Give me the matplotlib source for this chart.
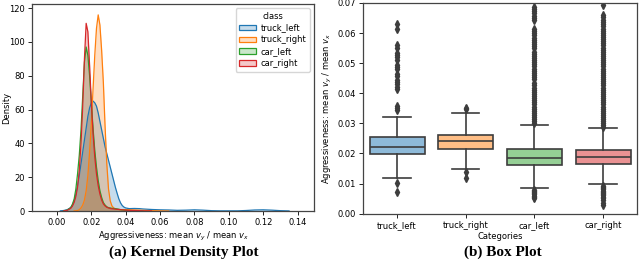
import numpy as np
import matplotlib
matplotlib.use("Agg")
import matplotlib.pyplot as plt
from matplotlib.patches import Patch

# ---- data ----
classes = ["truck_left", "truck_right", "car_left", "car_right"]
colors = ["#1f77b4", "#ff7f0e", "#2ca02c", "#d62728"]

# KDE curves (x grid shared, nan = curve not drawn there)
nan = np.nan
x_grid = [0.002, 0.004, 0.006, 0.008, 0.009, 0.010, 0.011, 0.012, 0.013, 0.014,
          0.015, 0.016, 0.017, 0.018, 0.019, 0.020, 0.021, 0.022, 0.023, 0.024,
          0.025, 0.026, 0.027, 0.028, 0.029, 0.030, 0.031, 0.032, 0.033, 0.034,
          0.035, 0.036, 0.037, 0.038, 0.039, 0.040, 0.042, 0.045, 0.048, 0.050,
          0.055, 0.060, 0.065, 0.070, 0.075, 0.080, 0.085, 0.090, 0.095, 0.100,
          0.105, 0.110, 0.115, 0.120, 0.125, 0.130, 0.135]
dens_truck_left = [0.1, 0.3, 0.8, 2, 3.5, 6, 10, 15, 21, 28,
                   35, 42, 49, 56, 61, 64, 65, 64, 62, 58,
                   53, 48, 43, 38, 34, 30, 26, 22, 18, 14,
                   10.5, 7.2, 4.8, 3.2, 2.3, 1.8, 1.4, 1.5, 1.4, 1.2,
                   0.9, 0.7, 0.6, 0.4, 0.5, 0.7, 0.5, 0.2, 0.1, 0.1,
                   0.1, 0.3, 0.6, 0.7, 0.5, 0.2, 0.05]
dens_truck_right = [nan, nan, nan, nan, nan, 0.05, 0.15, 0.3, 0.8, 1.8,
                    3.5, 6.5, 12, 21, 35, 52, 72, 92, 108, 116,
                    110, 95, 76, 50, 28, 13, 6, 3, 1.8, 1.3,
                    1.0, 0.9, 0.8, 0.8, 0.8, 0.8, 0.7, 0.6, 0.5, 0.4,
                    0.2, 0.1, 0.03, nan, nan, nan, nan, nan, nan, nan,
                    nan, nan, nan, nan, nan, nan, nan]
dens_car_left = [nan, 0.1, 0.5, 2, 4, 7, 13, 22, 33, 48,
                 68, 88, 97, 92, 80, 64, 49, 36, 26, 18,
                 12, 8, 5, 3.5, 2.5, 2, 1.8, 1.6, 1.5, 1.4,
                 1.2, 1.0, 0.8, 0.6, 0.5, 0.4, 0.3, 0.2, 0.1, 0.05,
                 nan, nan, nan, nan, nan, nan, nan, nan, nan, nan,
                 nan, nan, nan, nan, nan, nan, nan]
dens_car_right = [nan, 0.1, 0.4, 1.5, 2.8, 5, 8.5, 14, 24, 40,
                  62, 90, 111, 106, 86, 64, 46, 32, 22, 15,
                  10, 6.5, 4.2, 3, 2.2, 1.8, 1.5, 1.3, 1.2, 1.1,
                  1.0, 0.9, 0.8, 0.7, 0.6, 0.5, 0.4, 0.3, 0.2, 0.1,
                  0.05, nan, nan, nan, nan, nan, nan, nan, nan, nan,
                  nan, nan, nan, nan, nan, nan, nan]
densities = [dens_truck_left, dens_truck_right, dens_car_left, dens_car_right]

# box plot statistics
q1 = [0.0198, 0.0215, 0.0162, 0.0164]
med = [0.0223, 0.0242, 0.0185, 0.0187]
q3 = [0.0256, 0.0262, 0.0215, 0.0212]
whis_lo = [0.0120, 0.0147, 0.0084, 0.0098]
whis_hi = [0.0320, 0.0334, 0.0294, 0.0285]
fliers_truck_left = [0.0073, 0.0102,
                     0.0345, 0.0352, 0.0358, 0.0413, 0.0420, 0.0430, 0.0437, 0.0445,
                     0.0458, 0.0465, 0.0480, 0.0488, 0.0495, 0.0510, 0.0520, 0.0528,
                     0.0535, 0.0552, 0.0560, 0.0615, 0.0630]
fliers_truck_right = [0.0120, 0.0138, 0.0348, 0.0352]
fliers_car_left = [0.0052, 0.0056, 0.0060, 0.0064, 0.0068, 0.0072, 0.0076, 0.0080,
                   0.0300, 0.0307, 0.0314, 0.0321, 0.0328, 0.0335, 0.0342, 0.0349,
                   0.0356, 0.0363, 0.0370, 0.0377, 0.0384, 0.0391, 0.0398, 0.0405,
                   0.0412, 0.0419, 0.0426, 0.0433, 0.0447, 0.0454, 0.0461, 0.0468,
                   0.0475, 0.0482, 0.0489, 0.0496, 0.0503, 0.0510, 0.0517, 0.0524,
                   0.0531, 0.0538, 0.0550, 0.0557, 0.0564, 0.0571, 0.0578, 0.0585,
                   0.0592, 0.0599, 0.0606, 0.0613, 0.0643, 0.0650, 0.0657, 0.0668,
                   0.0674, 0.0680, 0.0686]
fliers_car_right = [0.0030, 0.0036, 0.0045, 0.0053, 0.0057, 0.0061, 0.0065, 0.0069,
                    0.0073, 0.0077, 0.0081, 0.0085, 0.0089, 0.0093,
                    0.0288, 0.0293, 0.0300, 0.0307, 0.0314, 0.0321, 0.0328, 0.0335,
                    0.0342, 0.0349, 0.0356, 0.0363, 0.0370, 0.0377, 0.0384, 0.0391,
                    0.0398, 0.0405, 0.0412, 0.0419, 0.0426, 0.0433, 0.0440, 0.0447,
                    0.0454, 0.0461, 0.0468, 0.0475, 0.0482, 0.0489, 0.0496, 0.0503,
                    0.0510, 0.0517, 0.0524, 0.0531, 0.0538, 0.0545, 0.0552, 0.0559,
                    0.0566, 0.0573, 0.0580, 0.0587, 0.0594, 0.0601, 0.0608, 0.0615,
                    0.0622, 0.0629, 0.0636, 0.0643, 0.0655, 0.0660, 0.0693]
fliers = [fliers_truck_left, fliers_truck_right, fliers_car_left, fliers_car_right]

xlabel_aggr = r"Aggressiveness: mean $v_y$ / mean $v_x$"

plt.rcParams["font.size"] = 6
plt.rcParams["axes.linewidth"] = 0.9
plt.rcParams["axes.edgecolor"] = "#444444"

fig = plt.figure(figsize=(6.4, 2.7), dpi=100)

# ---- (a) kernel density ----
ax1 = fig.add_axes([0.05, 0.2185, 0.4406, 0.7665])
xg = np.array(x_grid)
handles = []
for name, col, d in zip(classes, colors, densities):
    d = np.array(d, dtype=float)
    ax1.fill_between(xg, 0, d, color=col, alpha=0.25, linewidth=0)
    ax1.plot(xg, d, color=col, linewidth=0.9)
    handles.append(Patch(facecolor=matplotlib.colors.to_rgba(col, 0.25),
                         edgecolor=col, linewidth=0.9, label=name))
ax1.set_xlim(-0.0145, 0.1495)
ax1.set_ylim(0, 122.4)
ax1.set_xticks([0.00, 0.02, 0.04, 0.06, 0.08, 0.10, 0.12, 0.14])
ax1.set_xticklabels(["0.00", "0.02", "0.04", "0.06", "0.08", "0.10", "0.12", "0.14"])
ax1.set_yticks([0, 20, 40, 60, 80, 100, 120])
ax1.set_xlabel(xlabel_aggr, labelpad=2)
ax1.set_ylabel("Density")
ax1.yaxis.set_label_coords(-0.075, 0.5)
ax1.tick_params(length=3, width=0.6, pad=2)
ax1.legend(handles=handles, title="class", loc="upper right", fontsize=6,
           title_fontsize=6, handlelength=2.0, borderaxespad=0.5,
           labelspacing=0.35, handletextpad=0.6)

# ---- (b) box plot ----
ax2 = fig.add_axes([0.5667, 0.2085, 0.4293, 0.7805])
stats = []
for i, name in enumerate(classes):
    stats.append(dict(label=name, q1=q1[i], med=med[i], q3=q3[i],
                      whislo=whis_lo[i], whishi=whis_hi[i], fliers=fliers[i]))
line_col = "#3d3d3d"
bp = ax2.bxp(stats, positions=range(4), widths=0.8, patch_artist=True,
             boxprops=dict(edgecolor=line_col, linewidth=1.2),
             medianprops=dict(color=line_col, linewidth=1.2),
             whiskerprops=dict(color=line_col, linewidth=1.2),
             capprops=dict(color=line_col, linewidth=1.2),
             flierprops=dict(marker="d", markerfacecolor=line_col,
                             markeredgecolor=line_col, markersize=4))
for patch, col in zip(bp["boxes"], colors):
    patch.set_facecolor(matplotlib.colors.to_rgba(col, 0.5))
for cap in bp["caps"]:
    xd = cap.get_xdata()
    c = (xd[0] + xd[1]) / 2
    cap.set_xdata([c - 0.2, c + 0.2])
ax2.set_xlim(-0.5, 3.5)
ax2.set_ylim(0, 0.07)
ax2.set_yticks([0.00, 0.01, 0.02, 0.03, 0.04, 0.05, 0.06, 0.07])
ax2.set_yticklabels(["0.00", "0.01", "0.02", "0.03", "0.04", "0.05", "0.06", "0.07"])
ax2.set_xticks(range(4))
ax2.set_xticklabels(classes)
ax2.set_xlabel("Categories", labelpad=2)
ax2.set_ylabel(xlabel_aggr, labelpad=2)
ax2.tick_params(length=3, width=0.6, pad=2)

# ---- sub-captions ----
fig.text(0.287, 0.067, "(a) Kernel Density Plot", ha="center", va="center",
         family="Liberation Serif", weight="bold", fontsize=11)
fig.text(0.785, 0.067, "(b) Box Plot", ha="center", va="center",
         family="Liberation Serif", weight="bold", fontsize=11)

fig.savefig("out.png", dpi=100)
